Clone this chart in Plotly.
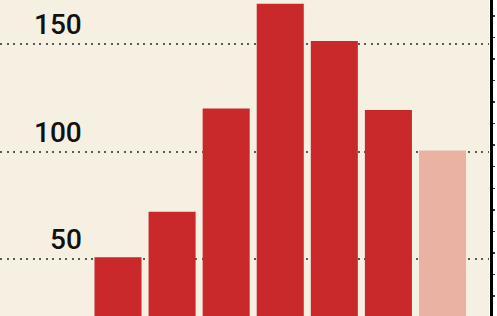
import plotly.graph_objects as go

categories = ["A", "B", "C", "D", "E", "F", "G"]
values = [50.9, 72.1, 120.1, 168.7, 151.4, 119.3, 100.5]
bar_colors = ["#c9292a"] * 6 + ["#e9b2a3"]
tick_values = [50, 100, 150]
tick_labels = ["50", "100", "150"]

W, H = 497, 316
plot_right = 489
y_range = [23.67, 170.44]
x_range = [-2.182, 6.860]

fig = go.Figure()
fig.add_trace(go.Bar(
    x=categories, y=values, marker=dict(color=bar_colors, line=dict(width=0)),
    showlegend=False, hoverinfo="skip",
))
fig.add_trace(go.Scatter(
    x=categories, y=values, yaxis="y2", mode="none",
    showlegend=False, hoverinfo="skip",
))

annotations = []
for v, t in zip(tick_values, tick_labels):
    annotations.append(dict(
        x=84 / W, xref="paper", y=v, yref="y",
        text=t, showarrow=False, xanchor="right", yanchor="bottom",
        yshift=1,
        font=dict(family="Roboto, Liberation Sans, sans-serif",
                  size=28, color="#111111", weight=500),
    ))

fig.update_layout(
    width=W, height=H,
    margin=dict(l=0, r=0, t=0, b=0, pad=0, autoexpand=False),
    paper_bgcolor="#ffffff",
    plot_bgcolor="#f6f0e2",
    bargap=0.13,
    xaxis=dict(domain=[0, plot_right / W], range=x_range,
               showticklabels=False, showgrid=False,
               zeroline=False, showline=False, ticks="", automargin=False),
    yaxis=dict(range=y_range, tickvals=tick_values, showticklabels=False,
               showgrid=True, gridcolor="#5a5a5a", gridwidth=2,
               griddash="2px,4.5px", zeroline=False, showline=False,
               ticks="", automargin=False),
    yaxis2=dict(range=y_range, overlaying="y", anchor="free",
                position=490.5 / W, side="right", showgrid=False,
                zeroline=False, showline=True, linecolor="#000000",
                linewidth=3, ticks="outside", ticklen=2, tickwidth=1.5,
                tickcolor="#333333", tick0=3, dtick=10,
                showticklabels=False, automargin=False),
    annotations=annotations,
)

fig.write_html(
    "out.html",
    config={"displayModeBar": False, "staticPlot": True},
    post_script="document.body.style.margin='0';document.body.style.overflow='hidden';",
)
